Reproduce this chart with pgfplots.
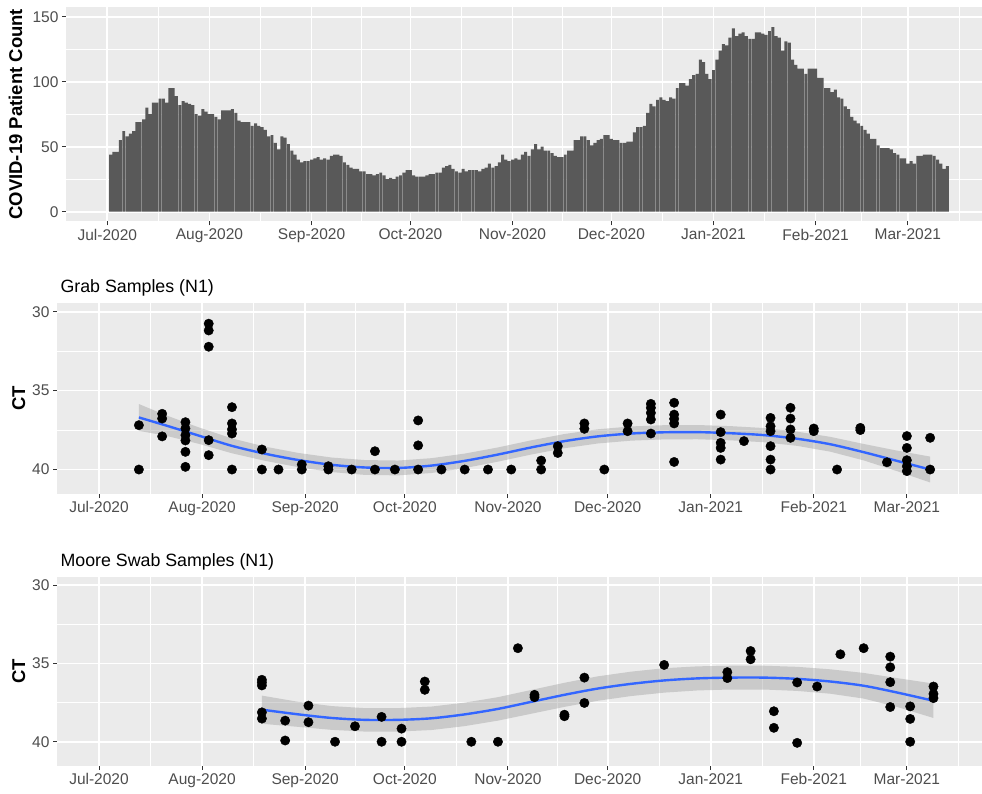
\documentclass[border=0pt]{standalone}
\usepackage{pgfplots}
\usepackage{pgfplotstable}
\pgfplotsset{compat=1.18}
\usepackage{fontspec}
\setmainfont{Liberation Sans}
\definecolor{panelbg}{HTML}{EBEBEB}
\definecolor{barfill}{HTML}{595959}
\definecolor{tickgray}{HTML}{4D4D4D}
\definecolor{tickmark}{HTML}{333333}
\definecolor{smoothblue}{HTML}{3366FF}
\definecolor{bandgray}{HTML}{999999}

\pgfplotstableread{
d v
1 44
2 46
3 46
4 55
5 62
6 58
7 60
8 62
9 69
10 69
11 71
12 80
13 75
14 84
15 84
16 87
17 87
18 84
19 95
20 95
21 89
22 82
23 85
24 84
25 83
26 82
27 75
28 74
29 79
30 77
31 75
32 75
33 73
34 71
35 78
36 78
37 78
38 79
39 76
40 70
41 69
42 69
43 69
44 66
45 68
46 66
47 65
48 63
49 58
50 59
51 53
52 48
53 58
54 57
55 52
56 47
57 44
58 40
59 38
60 39
61 39
62 40
63 41
64 42
65 40
66 41
67 40
68 43
69 44
70 44
71 43
72 38
73 36
74 34
75 33
76 33
77 31
78 31
79 29
80 29
81 28
82 29
83 30
84 28
85 25
86 26
87 25
88 27
89 28
90 30
91 32
92 32
93 28
94 27
95 27
96 27
97 28
98 29
99 29
100 30
101 30
102 34
103 35
104 36
105 33
106 31
107 30
108 33
109 31
110 32
111 32
112 32
113 31
114 33
115 34
116 37
117 34
118 35
119 38
120 44
121 40
122 39
123 40
124 41
125 40
126 44
127 46
128 43
129 48
130 52
131 48
132 50
133 47
134 47
135 45
136 43
137 42
138 42
139 44
140 47
141 47
142 55
143 55
144 58
145 58
146 55
147 51
148 53
149 55
150 56
151 59
152 59
153 56
154 55
155 55
156 53
157 53
158 54
159 54
160 61
161 65
162 65
163 66
164 76
165 83
166 81
167 86
168 88
169 86
170 85
171 88
172 87
173 95
174 99
175 99
176 97
177 102
178 105
179 106
180 117
181 115
182 106
183 102
184 109
185 117
186 124
187 129
188 128
189 134
190 141
191 135
192 137
193 138
194 135
195 133
196 133
197 138
198 138
199 137
200 136
201 139
202 142
203 135
204 134
205 124
206 131
207 130
208 117
209 113
210 110
211 110
212 106
213 110
214 110
215 110
216 103
217 103
218 95
219 95
220 92
221 94
222 88
223 87
224 81
225 79
226 73
227 70
228 68
229 66
230 63
231 60
232 56
233 56
234 51
235 49
236 49
237 49
238 48
239 45
240 44
241 41
242 41
243 37
244 39
245 37
246 43
247 43
248 44
249 44
250 44
251 43
252 40
253 37
254 33
255 35
}\barsdata

\pgfplotstableread{
d ct
12 37.19
12 40
19 36.47
19 36.77
19 37.9
26 37.0
26 37.4
26 37.82
26 38.16
26 38.88
26 39.83
33 30.76
33 31.19
33 32.22
33 38.14
33 39.09
40 36.05
40 37.08
40 37.46
40 37.72
40 40
49 38.73
49 40
54 40
61 39.68
61 40
69 39.79
69 40
76 40
83 38.84
83 40
89 40
96 36.89
96 38.47
96 40
103 40
110 40
117 40
124 40
133 39.43
133 40
138 38.52
138 38.95
146 37.08
146 37.42
152 40
159 37.08
159 37.57
166 35.84
166 36.09
166 36.41
166 36.83
166 37.72
173 35.77
173 36.52
173 36.79
173 37.08
173 39.52
187 36.52
187 37.63
187 38.31
187 38.63
187 39.37
194 38.2
202 36.73
202 37.26
202 37.57
202 38.52
202 39.37
202 40
208 36.09
208 36.77
208 37.46
208 37.99
215 37.4
215 37.57
222 40
229 37.36
229 37.5
237 39.54
243 37.88
243 38.63
243 39.41
243 39.79
243 40.1
250 37.99
250 40
}\grabpts

\pgfplotstableread{
d ct
12 36.70
20 37.20
30 37.85
40 38.50
50 39.00
60 39.40
70 39.70
80 39.87
90 39.90
100 39.75
110 39.45
120 39.05
130 38.60
140 38.20
150 37.90
160 37.72
170 37.64
180 37.63
190 37.70
200 37.82
210 38.05
220 38.40
230 38.90
240 39.45
250 40.00
}\grabline

\pgfplotstableread{
d ct
12 35.85
20 36.55
30 37.33
40 38.03
50 38.55
60 38.95
70 39.24
80 39.40
90 39.43
100 39.28
110 38.99
120 38.60
130 38.15
140 37.75
150 37.45
160 37.27
170 37.19
180 37.18
190 37.25
200 37.37
210 37.60
220 37.93
230 38.38
240 38.80
250 39.18
250 40.82
240 40.10
230 39.42
220 38.87
210 38.50
200 38.27
190 38.15
180 38.08
170 38.09
160 38.17
150 38.35
140 38.65
130 39.05
120 39.50
110 39.91
100 40.22
90 40.37
80 40.34
70 40.16
60 39.85
50 39.45
40 38.97
30 38.37
20 37.85
12 37.55
}\grabband

\pgfplotstableread{
d ct
49 36.04
49 36.21
49 36.4
49 38.12
49 38.52
56 38.65
56 39.92
63 37.69
63 38.75
71 40
77 39.01
85 38.41
85 40
91 39.16
91 40
98 36.15
98 36.68
112 40
120 40
126 34.02
131 37.0
131 37.15
140 38.27
140 38.37
146 35.9
146 37.52
170 35.09
189 35.55
189 35.93
196 34.2
196 34.73
203 38.05
203 39.11
210 36.21
210 40.07
216 36.47
223 34.41
230 34.02
238 34.56
238 35.24
238 36.19
238 37.78
244 37.74
244 38.54
244 40
251 36.47
251 36.94
251 37.21
}\moorepts

\pgfplotstableread{
d ct
49 37.95
60 38.25
70 38.48
80 38.60
90 38.60
100 38.50
110 38.25
120 37.90
130 37.45
140 37.00
150 36.60
160 36.30
170 36.08
180 35.95
190 35.90
200 35.90
210 35.98
220 36.15
230 36.42
240 36.85
251 37.38
}\mooreline

\pgfplotstableread{
d ct
49 37.05
60 37.45
70 37.72
80 37.85
90 37.85
100 37.75
110 37.50
120 37.15
130 36.69
140 36.23
150 35.82
160 35.52
170 35.30
180 35.18
190 35.14
200 35.14
210 35.21
220 35.37
230 35.60
240 35.93
251 36.28
251 38.48
240 37.77
230 37.24
220 36.93
210 36.75
200 36.66
190 36.66
180 36.72
170 36.86
160 37.08
150 37.38
140 37.77
130 38.21
120 38.65
110 39.00
100 39.25
90 39.35
80 39.35
70 39.24
60 39.05
49 38.85
}\mooreband

\pgfplotsset{
  gg/.style={
    scale only axis,
    axis background/.style={fill=panelbg},
    axis line style={draw=none},
    tick align=outside,
    tick pos=left,
    major tick length=4pt,
    minor tick length=0pt,
    tick style={color=tickmark, line width=0.9pt},
    grid=both,
    major grid style={white, line width=1.7pt},
    minor grid style={white, line width=0.85pt},
    xtick={0,31,62,92,123,153,184,215,243},
    xticklabels={Jul-2020,Aug-2020,Sep-2020,Oct-2020,Nov-2020,Dec-2020,Jan-2021,Feb-2021,Mar-2021},
    minor xtick={15.5,46.5,77,107.5,138,168.5,199.5,229,258.5},
    ticklabel style={font=\fontsize{15.5}{16}\selectfont, text=tickgray},
    /pgf/number format/assume math mode=true,
  },
}

\begin{document}
\begin{tikzpicture}
\path[use as bounding box] (0pt,0pt) rectangle (982pt,793pt);

% ---------- top: patient counts ----------
\begin{axis}[gg, at={(66pt,571.5pt)}, anchor=south west,
  width=916pt, height=214.5pt,
  xmin=-12.53, xmax=265.5, ymin=-7.5, ymax=157.5,
  ytick={0,50,100,150}, minor ytick={25,75,125}]
\addplot[ybar, bar width=0.9, fill=barfill, draw=none] table[x=d, y=v] {\barsdata};
\end{axis}
\node[rotate=90, anchor=base, font=\bfseries\fontsize{18.5}{20}\selectfont] at (22pt,678.75pt) {COVID-19 Patient Count};

% ---------- middle: grab samples ----------
\begin{axis}[gg, at={(57pt,299pt)}, anchor=south west,
  width=925pt, height=191pt,
  xmin=-12.63, xmax=265.6, ymin=29.45, ymax=41.55, y dir=reverse,
  ytick={30,35,40}, minor ytick={32.5,37.5}]
\addplot[only marks, mark=*, mark size=4.7pt, black] table[x=d, y=ct] {\grabpts};
\addplot[fill=bandgray, fill opacity=0.4, draw=none] table[x=d, y=ct] {\grabband} -- cycle;
\addplot[smoothblue, line width=2.4pt, smooth] table[x=d, y=ct] {\grabline};
\end{axis}
\node[anchor=base west, font=\fontsize{17.8}{20}\selectfont] at (57pt,500pt) {Grab Samples (N1)};
\node[rotate=90, anchor=base, font=\bfseries\fontsize{18.5}{20}\selectfont] at (25pt,394.5pt) {CT};

% ---------- bottom: Moore swab samples ----------
\begin{axis}[gg, at={(57pt,27pt)}, anchor=south west,
  width=925pt, height=189.3pt,
  xmin=-12.63, xmax=265.6, ymin=29.45, ymax=41.55, y dir=reverse,
  ytick={30,35,40}, minor ytick={32.5,37.5}]
\addplot[only marks, mark=*, mark size=4.7pt, black] table[x=d, y=ct] {\moorepts};
\addplot[fill=bandgray, fill opacity=0.4, draw=none] table[x=d, y=ct] {\mooreband} -- cycle;
\addplot[smoothblue, line width=2.4pt, smooth] table[x=d, y=ct] {\mooreline};
\end{axis}
\node[anchor=base west, font=\fontsize{17.8}{20}\selectfont] at (57pt,226.5pt) {Moore Swab Samples (N1)};
\node[rotate=90, anchor=base, font=\bfseries\fontsize{18.5}{20}\selectfont] at (25pt,121.6pt) {CT};
\end{tikzpicture}
\end{document}
